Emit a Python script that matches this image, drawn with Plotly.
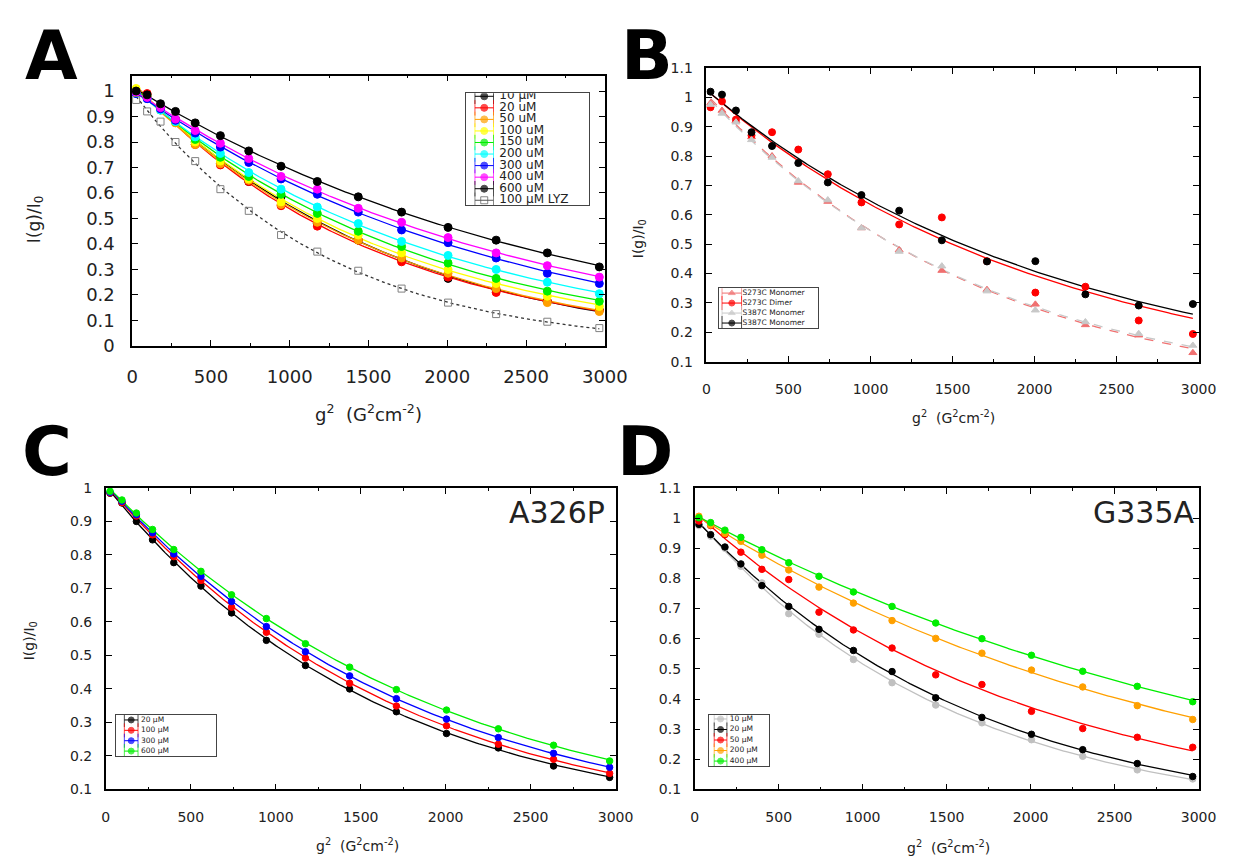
import numpy as np
import plotly.graph_objects as go

W, H = 1239, 860
FONT = "DejaVu Sans"

# ---------------- data ----------------
g2 = [25, 95, 180, 275, 400, 560, 740, 945, 1175, 1435, 1710, 2005, 2310, 2635, 2965]

# Panel A
a_names = ["10 \u03bcM", "20 uM", "50 uM", "100 uM", "150 uM", "200 uM",
           "300 uM", "400 uM", "600 uM", "100 \u03bcM LYZ"]
a_10 = [0.995, 0.975, 0.935, 0.89, 0.80, 0.715, 0.645, 0.585, 0.48, 0.415, 0.34, 0.265, 0.22, 0.175, 0.14]
a_20 = [1.0, 0.99, 0.93, 0.88, 0.79, 0.71, 0.645, 0.55, 0.47, 0.415, 0.33, 0.27, 0.21, 0.175, 0.14]
a_50 = [1.0, 0.975, 0.925, 0.875, 0.79, 0.715, 0.65, 0.555, 0.485, 0.415, 0.345, 0.285, 0.225, 0.17, 0.135]
a_100 = [1.01, 0.98, 0.93, 0.88, 0.80, 0.725, 0.655, 0.565, 0.50, 0.435, 0.365, 0.30, 0.245, 0.195, 0.155]
a_150 = [0.995, 0.975, 0.93, 0.88, 0.81, 0.74, 0.665, 0.595, 0.52, 0.45, 0.39, 0.325, 0.265, 0.215, 0.175]
a_200 = [0.99, 0.97, 0.925, 0.88, 0.82, 0.755, 0.68, 0.615, 0.545, 0.48, 0.41, 0.355, 0.30, 0.25, 0.205]
a_300 = [0.99, 0.97, 0.93, 0.885, 0.835, 0.78, 0.72, 0.655, 0.595, 0.525, 0.455, 0.405, 0.345, 0.285, 0.245]
a_400 = [0.995, 0.975, 0.935, 0.89, 0.845, 0.795, 0.735, 0.665, 0.615, 0.54, 0.485, 0.425, 0.365, 0.315, 0.27]
a_600 = [1.0, 0.985, 0.95, 0.92, 0.875, 0.825, 0.765, 0.705, 0.645, 0.585, 0.525, 0.465, 0.415, 0.365, 0.31]
a_lyz = [0.965, 0.92, 0.88, 0.80, 0.725, 0.615, 0.53, 0.435, 0.37, 0.295, 0.225, 0.17, 0.125, 0.095, 0.07]
a_series = [a_10, a_20, a_50, a_100, a_150, a_200, a_300, a_400, a_600, a_lyz]
a_colors = ["black", "#ff0000", "#ffa000", "#ffff00", "#00ee00", "#00ffff",
            "#0000ff", "#ff00ff", "black", "#808080"]

# Panel B
b_names = ["S273C Monomer", "S273C Dimer", "S387C Monomer", "S387C Monomer"]
b_s273_mono = [0.98, 0.955, 0.92, 0.865, 0.80, 0.71, 0.645, 0.555, 0.48, 0.41, 0.345, 0.295, 0.225, 0.19, 0.13]
b_s273_dimer = [0.966, 0.986, 0.924, 0.87, 0.881, 0.822, 0.738, 0.642, 0.567, 0.591, 0.442, 0.335, 0.355, 0.240, 0.194]
b_s387_mono_a = [0.975, 0.945, 0.915, 0.855, 0.795, 0.715, 0.65, 0.555, 0.475, 0.425, 0.34, 0.275, 0.235, 0.195, 0.155]
b_s387_mono_b = [1.019, 1.009, 0.955, 0.881, 0.834, 0.776, 0.710, 0.667, 0.614, 0.513, 0.441, 0.442, 0.329, 0.291, 0.296]
b_series = [b_s273_mono, b_s273_dimer, b_s387_mono_a, b_s387_mono_b]
b_colors = ["#f07070", "#ff0000", "#c8c8c8", "black"]

# Panel C (A326P)
c_names = ["20 \u03bcM", "100 \u03bcM", "300 \u03bcM", "600 \u03bcM"]
c_20 = [0.984, 0.955, 0.90, 0.845, 0.777, 0.707, 0.627, 0.545, 0.47, 0.40, 0.332, 0.267, 0.224, 0.17, 0.136]
c_100 = [0.985, 0.956, 0.916, 0.86, 0.795, 0.724, 0.644, 0.569, 0.492, 0.417, 0.349, 0.29, 0.235, 0.19, 0.148]
c_300 = [0.987, 0.96, 0.92, 0.866, 0.803, 0.736, 0.661, 0.586, 0.511, 0.439, 0.371, 0.31, 0.255, 0.208, 0.166]
c_600 = [0.99, 0.964, 0.925, 0.876, 0.816, 0.751, 0.681, 0.61, 0.535, 0.465, 0.398, 0.337, 0.281, 0.232, 0.185]
c_series = [c_20, c_100, c_300, c_600]
c_colors = ["black", "#ff0000", "#0000ff", "#00ee00"]

# Panel D (G335A)
d_names = ["10 \u03bcM", "20 \u03bcM", "50 \u03bcM", "200 \u03bcM", "400 \u03bcM"]
d_10 = [0.975, 0.94, 0.90, 0.84, 0.785, 0.683, 0.615, 0.531, 0.454, 0.38, 0.321, 0.265, 0.21, 0.165, 0.135]
d_20 = [0.979, 0.945, 0.904, 0.848, 0.776, 0.707, 0.631, 0.561, 0.491, 0.404, 0.339, 0.283, 0.232, 0.186, 0.143]
d_50 = [0.99, 0.975, 0.945, 0.887, 0.83, 0.796, 0.688, 0.629, 0.569, 0.48, 0.448, 0.359, 0.302, 0.273, 0.24]
d_200 = [1.006, 0.977, 0.949, 0.923, 0.877, 0.828, 0.771, 0.718, 0.66, 0.601, 0.552, 0.496, 0.44, 0.378, 0.332]
d_400 = [1.001, 0.985, 0.96, 0.936, 0.895, 0.852, 0.807, 0.755, 0.707, 0.652, 0.60, 0.545, 0.492, 0.442, 0.391]
d_series = [d_10, d_20, d_50, d_200, d_400]
d_colors = ["#c0c0c0", "black", "#ff0000", "#ffa000", "#00ee00"]

x_ticks = [0, 500, 1000, 1500, 2000, 2500, 3000]


# ---------------- helpers ----------------
def fit_curve(x, y, deg=2, n=200):
    """Smooth least-squares fit (polynomial in log space, weighted by y) of the read data."""
    x = np.asarray(x, float)
    y = np.asarray(y, float)
    c = np.polyfit(x, np.log(y), deg, w=y)
    xf = np.linspace(x.min(), x.max(), n)
    return xf, np.exp(np.polyval(c, xf))


def px_dom_x(l, r):
    return [l / W, r / W]


def px_dom_y(t, b):
    return [1 - b / H, 1 - t / H]


fig = go.Figure()

# panel boxes in pixels: left, right, top, bottom
panels = {
    1: dict(box=(121, 605, 61, 337), yr=[0, 1.06], tf=18, xs=14, ys=12),
    2: dict(box=(709, 1213, 53, 353), yr=[0.1, 1.1], tf=14, xs=14, ys=9),
    3: dict(box=(94, 616, 482, 790), yr=[0.1, 1.0], tf=14, xs=14, ys=9),
    4: dict(box=(697, 1213, 482, 790), yr=[0.1, 1.1], tf=14, xs=14, ys=9),
}

layout_axes = {}
for k, p in panels.items():
    l, r, t, b = p["box"]
    common = dict(showline=True, mirror="ticks", linecolor="black", linewidth=1.5,
                  ticks="inside", ticklen=6, tickwidth=1, tickcolor="black",
                  showgrid=False, zeroline=False,
                  tickfont=dict(family=FONT, size=p["tf"], color="#222"))
    sfx = "" if k == 1 else str(k)
    layout_axes["xaxis" + sfx] = dict(common, domain=px_dom_x(l, r), range=[0, 3000],
                                      tickvals=x_ticks, anchor="y" + sfx,
                                      ticklabelstandoff=p["xs"],
                                      minor=dict(ticks="inside", ticklen=3, dtick=250,
                                                 tickcolor="black", showgrid=False))
    layout_axes["yaxis" + sfx] = dict(common, domain=px_dom_y(t, b), range=p["yr"],
                                      dtick=0.1, tick0=0, anchor="x" + sfx,
                                      ticklabelstandoff=p["ys"])


def add_panel(k, series, colors, symbols, msize, dashes, degs, line_colors=None,
              lwidth=1.3, msizes=None):
    sfx = "" if k == 1 else str(k)
    line_colors = line_colors or colors
    for i, ys in enumerate(series):
        xf, yf = fit_curve(g2, ys, degs[i])
        fig.add_trace(go.Scatter(x=xf, y=yf, mode="lines", xaxis="x" + sfx, yaxis="y" + sfx,
                                 line=dict(color=line_colors[i], width=lwidth, dash=dashes[i]),
                                 showlegend=False, hoverinfo="skip"))
    for i, ys in enumerate(series):
        fig.add_trace(go.Scatter(x=g2, y=ys, mode="markers", xaxis="x" + sfx, yaxis="y" + sfx,
                                 marker=dict(symbol=symbols[i],
                                             size=msizes[i] if msizes else msize,
                                             color=colors[i],
                                             line=dict(color=colors[i], width=1)),
                                 showlegend=False))


# Panel A
a_symbols = ["circle"] * 9 + ["square-open"]
a_dashes = ["solid"] * 9 + ["dot"]
a_line_colors = a_colors[:9] + ["#333333"]
add_panel(1, a_series, a_colors, a_symbols, 8, a_dashes, [2] * 10,
          line_colors=a_line_colors, msizes=[8] * 9 + [7])

# Panel B
b_symbols = ["triangle-up", "circle", "triangle-up", "circle"]
b_dashes = ["dash", "solid", "dash", "solid"]
add_panel(2, b_series, b_colors, b_symbols, 7, b_dashes, [2, 1, 2, 1])

# Panel C
add_panel(3, c_series, c_colors, ["circle"] * 4, 6.5, ["solid"] * 4, [2] * 4)

# Panel D
add_panel(4, d_series, d_colors, ["circle"] * 5, 6.5, ["solid"] * 5, [2] * 5)


# ---------------- inset legends ----------------
def add_legend(k, box, names, colors, symbols, row0, step, samp, text_px, fsize, msize, cap):
    left, right, top, bottom = box
    n = len(names)
    sl, sr = samp
    u = sr - sl
    layout_axes["xaxis%d" % k] = dict(domain=px_dom_x(left, right),
                                      range=[(left - sl) / u, (right - sl) / u],
                                      showline=True, mirror=True, linecolor="#444", linewidth=1,
                                      showticklabels=False, ticks="", showgrid=False,
                                      zeroline=False, anchor="y%d" % k, fixedrange=True)
    layout_axes["yaxis%d" % k] = dict(domain=px_dom_y(top, bottom),
                                      range=[(bottom - row0) / step, -(row0 - top) / step],
                                      showline=True, mirror=True, linecolor="#444", linewidth=1,
                                      showticklabels=False, ticks="", showgrid=False,
                                      zeroline=False, anchor="x%d" % k, fixedrange=True)
    for i in range(n):
        fig.add_trace(go.Scatter(
            x=[0, 0.5, 1], y=[i, i, i], mode="lines+markers",
            xaxis="x%d" % k, yaxis="y%d" % k,
            line=dict(color=colors[i], width=1),
            marker=dict(symbol=["line-ns", symbols[i], "line-ns"], size=[cap, msize, cap],
                        color=colors[i], line=dict(color=colors[i], width=1)),
            showlegend=False, hoverinfo="skip"))
    fig.add_trace(go.Scatter(
        x=[(text_px - sl) / u] * n, y=list(range(n)), text=names, mode="text",
        textposition="middle right", xaxis="x%d" % k, yaxis="y%d" % k,
        textfont=dict(family=FONT, size=fsize, color="#222"),
        showlegend=False, hoverinfo="skip"))


a_leg_colors = a_colors[:9] + ["#555555"]
add_legend(5, (463, 589, 79, 193), a_names, a_leg_colors, a_symbols,
           82, 11.8, (472, 491), 497, 12, 7, 11)
add_legend(6, (722, 823, 278, 319), b_names, b_colors, b_symbols,
           283, 10.2, (725, 745), 746, 7.5, 6, 10)
add_legend(7, (104, 207, 714, 756), c_names, c_colors, ["circle"] * 4,
           719, 10.6, (113, 127), 130, 7.5, 6, 10)
add_legend(8, (712, 773, 714, 766), d_names, d_colors, ["circle"] * 5,
           718, 10.75, (717, 730), 733, 7.5, 6, 10)

# ---------------- annotations ----------------
ann = []


def txt(x, y, s, size, xanchor="center", yanchor="middle", bold=False, angle=0, color="#222"):
    ann.append(dict(x=x / W, y=1 - y / H, xref="paper", yref="paper",
                    text=("<b>%s</b>" % s) if bold else s,
                    showarrow=False, xanchor=xanchor, yanchor=yanchor, textangle=angle,
                    font=dict(family=FONT, size=size, color=color)))


XT = "g<sup>2</sup>  (G<sup>2</sup>cm<sup>-2</sup>)"
YT = "I(g)/I<sub>0</sub>"
for letter, (lx, ly) in zip("ABCD", [(38, 40), (648, 40), (34, 445), (646, 445)]):
    txt(lx, ly, letter, 68, bold=True, color="black")
txt(363, 405, XT, 18)
txt(22, 208, YT, 17, angle=-90)
txt(962, 410, XT, 14)
txt(640, 228, YT, 14, angle=-90)
txt(352, 847, XT, 14)
txt(16, 638, YT, 14, angle=-90)
txt(957, 849, XT, 14)
txt(607, 507, "A326P", 30, xanchor="right")
txt(1211, 507, "G335A", 30, xanchor="right")

fig.update_layout(width=W, height=H, margin=dict(l=0, r=0, t=0, b=0),
                  paper_bgcolor="white", plot_bgcolor="white",
                  showlegend=False, annotations=ann, **layout_axes)

fig.write_html("out.html")
